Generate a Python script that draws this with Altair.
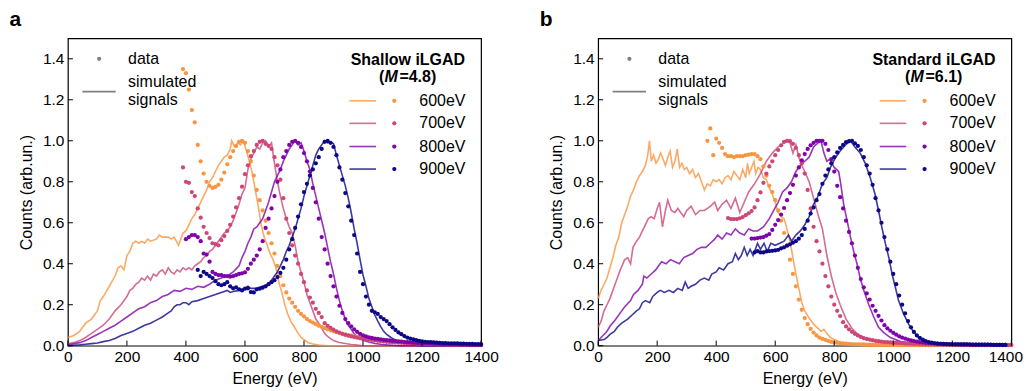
import altair as alt
import pandas as pd

FONT = "Liberation Sans"
ENERGIES = ["600eV", "700eV", "800eV", "900eV"]
COLORS = ["#F89540", "#CC4778", "#7E03A8", "#0D0887"]
XTICKS = [0, 200, 400, 600, 800, 1000, 1200, 1400]
YTICKS = [0.0, 0.2, 0.4, 0.6, 0.8, 1.0, 1.2, 1.4]
BIN = 10  # energy bin of the measured spectra (eV)

# ---------------- panel a : Shallow iLGAD (M=4.8) ----------------
a_sim_600 = [(0,0.04),(20,0.05),(40,0.07),(50,0.09),(60,0.11),(80,0.13),(100,0.17),(110,0.22),(120,0.24),(140,0.29),
             (160,0.34),(170,0.38),(180,0.39),(190,0.37),(200,0.44),(210,0.46),(220,0.50),(230,0.51),(240,0.50),(250,0.51),
             (260,0.50),(270,0.52),(280,0.51),(300,0.52),(310,0.54),(320,0.53),(340,0.53),(350,0.52),(360,0.53),(375,0.49),
             (390,0.55),(400,0.56),(410,0.59),(420,0.62),(430,0.64),(440,0.67),(450,0.70),(460,0.73),(470,0.76),(480,0.80),
             (490,0.82),(500,0.85),(510,0.88),(520,0.90),(530,0.92),(540,0.93),(550,0.96),(555,1.0),(565,0.97),(575,0.99),
             (585,0.98),(595,1.0),(605,0.95),(615,0.90),(625,0.84),(635,0.76),(645,0.68),(655,0.59),(665,0.53),(675,0.49),
             (685,0.45),(695,0.42),(705,0.38),(715,0.31),(725,0.26),(735,0.20),(745,0.155),(755,0.12),(768,0.09),(780,0.06),
             (790,0.04),(800,0.03),(813,0.016),(830,0.008),(850,0.003),(880,0.0),(1400,0.0)]
a_sim_700 = [(0,0.01),(20,0.015),(40,0.025),(60,0.04),(80,0.06),(100,0.08),(120,0.10),(140,0.13),(160,0.17),(180,0.20),
             (200,0.24),(210,0.27),(220,0.28),(230,0.30),(240,0.31),(250,0.33),(260,0.32),(270,0.34),(280,0.32),(290,0.35),
             (300,0.34),(310,0.36),(320,0.37),(330,0.35),(340,0.38),(350,0.36),(360,0.35),(370,0.37),(380,0.36),(390,0.38),
             (400,0.37),(410,0.38),(420,0.37),(430,0.39),(440,0.40),(450,0.41),(460,0.43),(470,0.44),(480,0.46),(490,0.47),
             (500,0.49),(510,0.51),(520,0.53),(530,0.55),(540,0.56),(550,0.58),(560,0.61),(570,0.65),(580,0.69),(590,0.74),
             (600,0.77),(610,0.86),(620,0.91),(630,0.94),(640,0.97),(650,0.96),(660,0.99),(670,1.0),(680,0.97),(690,0.99),
             (700,0.89),(710,0.80),(720,0.73),(730,0.67),(740,0.62),(750,0.58),(760,0.55),(770,0.49),(780,0.41),(790,0.36),
             (800,0.31),(810,0.25),(820,0.21),(830,0.17),(840,0.13),(850,0.11),(860,0.085),(870,0.06),(880,0.045),(890,0.035),
             (900,0.025),(920,0.016),(940,0.011),(960,0.006),(980,0.003),(1000,0.0),(1400,0.0)]
a_sim_800 = [(0,0.005),(20,0.01),(40,0.015),(60,0.025),(80,0.04),(100,0.055),(120,0.07),(140,0.085),(160,0.10),(180,0.12),
             (200,0.14),(220,0.16),(240,0.18),(260,0.19),(280,0.21),(300,0.22),(320,0.24),(340,0.25),(360,0.27),(380,0.265),
             (400,0.28),(420,0.275),(440,0.29),(460,0.285),(480,0.30),(500,0.32),(520,0.33),(540,0.34),(560,0.36),(580,0.39),
             (590,0.43),(600,0.46),(610,0.50),(620,0.53),(630,0.57),(640,0.58),(650,0.60),(660,0.62),(670,0.66),(680,0.70),
             (690,0.75),(700,0.80),(710,0.83),(720,0.86),(730,0.90),(740,0.93),(750,0.96),(760,0.98),(770,1.0),(780,0.98),
             (790,0.99),(800,0.95),(810,0.90),(820,0.86),(830,0.79),(840,0.73),(850,0.67),(860,0.61),(870,0.55),(880,0.48),
             (890,0.41),(900,0.35),(910,0.28),(920,0.22),(930,0.17),(940,0.13),(950,0.10),(960,0.08),(970,0.058),(980,0.045),
             (1000,0.026),(1020,0.018),(1040,0.011),(1060,0.007),(1080,0.004),(1100,0.002),(1120,0.0),(1400,0.0)]
a_sim_900 = [(0,0.0),(20,0.002),(40,0.004),(60,0.007),(80,0.01),(100,0.013),(120,0.02),(140,0.025),(160,0.035),(180,0.05),
             (200,0.06),(220,0.07),(240,0.085),(260,0.10),(280,0.11),(300,0.125),(320,0.14),(340,0.16),(350,0.17),(360,0.19),
             (370,0.20),(380,0.20),(390,0.21),(400,0.21),(410,0.20),(420,0.215),(440,0.22),(460,0.23),(480,0.24),(500,0.25),
             (520,0.26),(540,0.27),(550,0.26),(560,0.265),(580,0.27),(600,0.28),(610,0.29),(620,0.28),(640,0.28),(660,0.29),
             (680,0.30),(690,0.32),(700,0.34),(710,0.36),(720,0.39),(730,0.42),(740,0.46),(750,0.49),(760,0.53),(770,0.57),
             (780,0.62),(790,0.67),(800,0.73),(810,0.78),(820,0.83),(830,0.88),(840,0.93),(850,0.96),(860,0.98),(870,1.0),
             (880,0.99),(890,0.995),(900,0.985),(910,0.93),(920,0.88),(930,0.83),(940,0.78),(950,0.72),(960,0.65),(970,0.57),
             (980,0.50),(990,0.42),(1000,0.345),(1010,0.29),(1020,0.23),(1030,0.19),(1040,0.15),(1050,0.12),(1060,0.093),(1070,0.07),
             (1080,0.055),(1090,0.045),(1100,0.035),(1120,0.022),(1140,0.013),(1160,0.007),(1180,0.003),(1200,0.0),(1400,0.0)]

a_dat_600_start = 390
a_dat_600 = [1.35,1.33,1.25,1.15,1.09,0.98,0.90,0.84,0.80,0.78,0.77,
             0.775,0.785,0.81,0.845,0.885,0.92,0.95,0.975,0.995,1.0,
             0.99,0.95,0.90,0.83,0.76,0.71,0.66,0.61,0.55,0.50,
             0.45,0.39,0.34,0.295,0.26,0.23,0.21,0.19,0.17,0.155,
             0.143,0.13,0.12,0.113,0.105,0.098,0.092,0.086,0.08,0.075,
             0.07,0.066,0.062,0.058,0.055,0.052,0.049,0.046,0.043,0.041,
             0.039,0.037,0.035,0.033,0.031,0.029,0.027,0.026,0.024,0.023,
             0.022,0.021,0.019,0.018,0.017,0.016,0.015,0.014,0.013,0.012,
             0.012,0.011,0.010,0.010,0.009,0.009,0.008,0.008,0.007,0.007,
             0.006,0.006,0.006,0.005,0.005,0.005,0.004,0.004,0.004,0.004,0.003]
a_dat_700_start = 390
a_dat_700 = [0.87,0.80,0.795,0.75,0.73,0.67,0.625,0.58,0.55,0.525,0.50,
             0.496,0.49,0.515,0.535,0.56,0.59,0.63,0.675,0.72,0.776,
             0.837,0.88,0.925,0.95,0.98,0.995,1.0,0.985,0.975,0.96,
             0.92,0.88,0.81,0.72,0.62,0.55,0.49,0.44,0.40,0.35,
             0.31,0.27,0.235,0.21,0.18,0.16,0.14,0.11,0.097,0.087,
             0.078,0.070,0.064,0.058,0.053,0.049,0.045,0.042,0.039,0.036,
             0.034,0.032,0.030,0.028,0.026,0.024,0.022,0.021,0.019,0.018,
             0.017,0.016,0.015,0.014,0.013,0.012,0.011,0.011,0.010,0.009,
             0.009,0.008,0.008,0.007,0.007,0.006,0.006,0.006,0.005,0.005,
             0.005,0.004,0.004,0.004,0.004,0.003,0.003,0.003,0.003,0.003,0.003]
a_dat_800_start = 400
a_dat_800 = [0.52,0.53,0.54,0.54,0.53,0.51,0.45,0.445,0.41,0.36,
             0.35,0.345,0.345,0.34,0.34,0.337,0.34,0.345,0.35,0.353,
             0.358,0.375,0.40,0.42,0.44,0.47,0.51,0.575,0.62,0.67,
             0.73,0.80,0.86,0.92,0.95,0.98,0.995,1.0,0.99,0.97,
             0.94,0.90,0.85,0.77,0.70,0.62,0.53,0.47,0.40,0.34,
             0.29,0.24,0.195,0.16,0.13,0.11,0.095,0.08,0.068,0.058,
             0.05,0.045,0.041,0.038,0.035,0.033,0.031,0.029,0.027,0.026,
             0.024,0.023,0.021,0.020,0.018,0.017,0.016,0.015,0.014,0.013,
             0.012,0.011,0.011,0.010,0.009,0.009,0.008,0.008,0.007,0.007,
             0.006,0.006,0.006,0.005,0.005,0.005,0.004,0.004,0.004,0.004,0.003]
a_dat_900_start = 440
a_dat_900 = [0.37,0.34,0.36,0.35,0.34,0.33,
             0.315,0.30,0.295,0.30,0.31,0.29,0.28,0.285,0.275,0.27,
             0.278,0.28,0.262,0.26,0.275,0.278,0.283,0.29,0.30,0.31,
             0.32,0.335,0.355,0.38,0.42,0.47,0.52,0.575,0.63,0.69,
             0.75,0.79,0.83,0.86,0.89,0.92,0.96,0.995,1.0,0.99,
             0.97,0.93,0.87,0.81,0.745,0.68,0.61,0.54,0.45,0.36,
             0.30,0.24,0.20,0.17,0.163,0.155,0.14,0.13,0.12,0.105,
             0.09,0.077,0.065,0.056,0.047,0.04,0.035,0.031,0.027,0.024,
             0.021,0.019,0.018,0.017,0.016,0.015,0.014,0.013,0.013,0.012,
             0.012,0.011,0.011,0.010,0.010,0.009,0.009,0.009,0.008,0.008,0.008]

# ---------------- panel b : Standard iLGAD (M=6.1) ----------------
b_sim_600 = [(0,0.23),(10,0.27),(20,0.30),(30,0.33),(40,0.38),(50,0.43),(60,0.49),(70,0.53),(80,0.60),(90,0.64),
             (100,0.68),(110,0.73),(120,0.76),(130,0.80),(140,0.83),(150,0.85),(160,0.88),(168,0.93),(174,1.0),(180,0.90),
             (188,0.93),(196,0.89),(204,0.91),(212,0.94),(220,0.91),(228,0.88),(236,0.92),(244,0.95),(252,0.87),(260,0.90),
             (268,0.96),(276,0.87),(284,0.89),(292,0.86),(300,0.87),(310,0.84),(320,0.86),(330,0.82),(340,0.84),(350,0.80),
             (360,0.76),(370,0.79),(380,0.78),(390,0.81),(400,0.80),(410,0.81),(420,0.79),(430,0.82),(440,0.83),(450,0.81),
             (460,0.85),(470,0.83),(480,0.81),(490,0.86),(500,0.82),(506,0.89),(512,0.84),(520,0.87),(528,0.90),(534,0.84),
             (542,0.87),(550,0.86),(560,0.82),(570,0.81),(580,0.77),(590,0.74),(600,0.70),(610,0.65),(620,0.63),(630,0.62),
             (640,0.57),(650,0.51),(660,0.43),(670,0.35),(680,0.28),(690,0.21),(700,0.17),(715,0.135),(730,0.105),(745,0.085),
             (755,0.07),(765,0.08),(775,0.06),(787,0.04),(800,0.03),(810,0.024),(825,0.015),(845,0.009),(870,0.004),(900,0.0),
             (1400,0.0)]
b_sim_700 = [(0,0.09),(10,0.12),(20,0.17),(30,0.20),(40,0.23),(55,0.29),(65,0.33),(75,0.37),(90,0.42),(100,0.43),
             (110,0.40),(118,0.48),(130,0.51),(140,0.53),(150,0.56),(160,0.59),(170,0.62),(180,0.63),(190,0.62),(200,0.67),
             (208,0.70),(218,0.58),(228,0.66),(236,0.71),(248,0.66),(260,0.65),(270,0.67),(290,0.63),(300,0.66),(315,0.68),
             (330,0.64),(345,0.66),(360,0.66),(380,0.68),(395,0.70),(405,0.66),(420,0.69),(435,0.71),(450,0.67),(465,0.72),
             (480,0.65),(495,0.70),(510,0.75),(530,0.79),(550,0.84),(570,0.90),(590,0.94),(610,0.97),(630,0.99),(640,1.0),
             (650,0.99),(660,0.94),(670,0.98),(680,0.92),(690,0.88),(700,0.85),(715,0.80),(730,0.72),(745,0.64),(760,0.57),
             (775,0.44),(790,0.34),(805,0.26),(820,0.20),(840,0.13),(860,0.085),(880,0.055),(910,0.03),(950,0.016),(1000,0.005),
             (1050,0.0),(1400,0.0)]
b_sim_800 = [(0,0.025),(10,0.04),(20,0.055),(30,0.07),(40,0.095),(55,0.12),(65,0.14),(80,0.17),(90,0.19),(110,0.22),
             (120,0.25),(135,0.27),(150,0.30),(155,0.34),(165,0.33),(180,0.35),(195,0.37),(205,0.39),(215,0.41),(230,0.40),
             (245,0.42),(260,0.41),(275,0.40),(290,0.43),(305,0.44),(320,0.45),(335,0.47),(350,0.48),(365,0.48),(380,0.50),
             (395,0.52),(405,0.54),(420,0.52),(435,0.55),(450,0.54),(465,0.57),(480,0.55),(495,0.54),(510,0.57),(525,0.56),
             (540,0.56),(560,0.58),(580,0.62),(595,0.66),(610,0.70),(625,0.75),(640,0.77),(655,0.80),(670,0.85),(685,0.88),
             (700,0.90),(715,0.92),(730,0.97),(745,0.99),(755,1.0),(765,0.94),(775,0.90),(785,0.91),(800,0.87),(815,0.85),
             (822,0.79),(832,0.69),(845,0.60),(855,0.53),(866,0.46),(877,0.40),(888,0.33),(900,0.27),(917,0.20),(934,0.14),
             (950,0.09),(967,0.065),(990,0.04),(1025,0.02),(1070,0.01),(1150,0.0),(1400,0.0)]
b_sim_900 = [(0,0.025),(10,0.028),(20,0.03),(30,0.04),(40,0.055),(55,0.07),(65,0.09),(80,0.11),(90,0.12),(100,0.13),
             (115,0.15),(130,0.17),(140,0.18),(150,0.21),(160,0.22),(175,0.21),(185,0.24),(200,0.26),(210,0.27),(225,0.26),
             (240,0.27),(255,0.26),(270,0.28),(285,0.27),(295,0.31),(305,0.28),(315,0.29),(330,0.30),(345,0.32),(360,0.33),
             (375,0.32),(385,0.35),(400,0.36),(410,0.38),(425,0.37),(440,0.40),(455,0.41),(465,0.45),(475,0.42),(485,0.44),
             (495,0.48),(505,0.44),(515,0.47),(525,0.44),(540,0.50),(550,0.47),(562,0.50),(573,0.46),(585,0.50),(600,0.49),
             (615,0.50),(630,0.51),(645,0.54),(655,0.51),(670,0.54),(685,0.56),(700,0.59),(715,0.63),(730,0.69),(742,0.72),
             (760,0.79),(775,0.82),(787,0.87),(805,0.92),(820,0.95),(838,0.98),(855,1.0),(870,0.97),(888,0.94),(905,0.89),
             (922,0.82),(938,0.74),(950,0.66),(961,0.58),(973,0.50),(985,0.43),(996,0.35),(1007,0.285),(1018,0.22),(1035,0.155),
             (1052,0.105),(1070,0.065),(1086,0.04),(1110,0.02),(1140,0.01),(1200,0.0),(1400,0.0)]

b_dat_600_start = 370
b_dat_600 = [1.0,1.06,0.93,1.01,0.99,0.965,0.935,0.925,0.925,0.92,
             0.925,0.925,0.925,0.93,0.933,0.935,0.935,0.925,0.91,0.875,
             0.83,0.78,0.75,0.71,0.66,0.61,0.55,0.49,0.42,0.35,
             0.29,0.225,0.175,0.135,0.105,0.082,0.064,0.05,0.04,0.033,
             0.028,0.023,0.019,0.016,0.014,0.012,0.011,0.010,0.009,0.008,
             0.007,0.007,0.006,0.006,0.005,0.005,0.005,0.004,0.004,0.004,
             0.004,0.004,0.003,0.003,0.003,0.003,0.003,0.003,0.003,0.003,
             0.003,0.003,0.003,0.003,0.003,0.003,0.003,0.003,0.003,0.003,
             0.003,0.003,0.003,0.003,0.003,0.003,0.003,0.003,0.003,0.003,
             0.003,0.003,0.003,0.003,0.003,0.003,0.003,0.003,0.003,0.003,
             0.003,0.003,0.003,0.003]
b_dat_700_start = 440
b_dat_700 = [0.623,0.618,0.618,0.618,0.622,0.628,0.637,0.646,0.657,0.675,
             0.71,0.748,0.795,0.84,0.875,0.90,0.93,0.955,0.978,0.995,
             1.0,0.998,0.985,0.965,0.93,0.89,0.84,0.76,0.67,0.58,
             0.51,0.46,0.40,0.34,0.29,0.24,0.20,0.17,0.145,0.115,
             0.094,0.08,0.068,0.058,0.05,0.043,0.037,0.033,0.03,0.027,
             0.024,0.022,0.02,0.018,0.017,0.016,0.015,0.014,0.013,0.012,
             0.011,0.010,0.010,0.009,0.009,0.008,0.008,0.007,0.007,0.007,
             0.006,0.006,0.006,0.005,0.005,0.005,0.005,0.004,0.004,0.004,
             0.004,0.004,0.003,0.003,0.003,0.003,0.003,0.003,0.003,0.003,
             0.003,0.003,0.003,0.003,0.003,0.003,0.003]
b_dat_800_start = 520
b_dat_800 = [0.523,0.523,0.525,0.528,0.53,0.537,0.545,0.565,
             0.59,0.613,0.64,0.672,0.71,0.745,0.785,0.83,0.87,0.905,
             0.935,0.96,0.978,0.99,1.0,1.0,1.0,0.985,0.955,0.91,
             0.85,0.78,0.725,0.67,0.61,0.555,0.50,0.44,0.38,0.325,
             0.285,0.255,0.225,0.195,0.17,0.146,0.123,0.10,0.085,0.073,
             0.063,0.054,0.046,0.04,0.035,0.03,0.026,0.023,0.02,0.018,
             0.016,0.014,0.013,0.012,0.011,0.010,0.009,0.009,0.008,0.008,
             0.007,0.007,0.007,0.006,0.006,0.006,0.006,0.005,0.005,0.005,
             0.005,0.005,0.005,0.004,0.004,0.004,0.004,0.004,0.004]
b_dat_900_start = 530
b_dat_900 = [0.455,0.462,0.455,0.455,0.46,0.462,0.463,
             0.465,0.468,0.475,0.48,0.488,0.495,0.503,0.51,0.522,0.54,
             0.57,0.61,0.645,0.675,0.71,0.74,0.79,0.83,0.86,0.89,
             0.92,0.943,0.965,0.98,0.993,0.998,1.0,0.987,0.975,0.955,
             0.92,0.88,0.84,0.785,0.72,0.66,0.60,0.53,0.47,0.41,
             0.35,0.30,0.245,0.20,0.158,0.12,0.09,0.067,0.05,0.038,
             0.03,0.023,0.018,0.015,0.012,0.010,0.009,0.008,0.008,0.007,
             0.007,0.007,0.006,0.006,0.006,0.006,0.005,0.005,0.005,0.005,
             0.005,0.005,0.005,0.005,0.004,0.004,0.004,0.004,0.004]

# ---------------- legend content ----------------
LEG_ROWS_V = [1.195, 1.085, 0.972, 0.862]
LEG_LINE_E = (954, 1044)
LEG_DOT_E = 1106
LEG_TEXT_E = 1347
GEN_DOT = (106, 1.40)
GEN_LINE = (49, 162, 1.24)
GEN_TEXTS = [("data", 204, 1.40), ("simulated", 204, 1.285), ("signals", 204, 1.20)]

DOT_SIZE = 18
LINE_W = 1.6

X_SCALE = alt.Scale(domain=[0, 1400], nice=False, zero=False)
Y_SCALE = alt.Scale(domain=[0, 1.5], nice=False, zero=False)
COLOR = alt.Color("s:N", scale=alt.Scale(domain=ENERGIES, range=COLORS), legend=None)
Y_AXIS = alt.Axis(values=YTICKS, format=".1f", title="Counts (arb.un.)", titlePadding=8)


def make_x_axis(last_shift):
    if last_shift:
        return alt.Axis(values=XTICKS, format="d", title="Energy (eV)", titlePadding=5,
                        labelOffset={"condition": {"test": "datum.value >= 1400", "value": last_shift},
                                     "value": 0})
    return alt.Axis(values=XTICKS, format="d", title="Energy (eV)", titlePadding=5)


def sim_frame(series):
    rows = []
    for lab, pts in zip(ENERGIES, series):
        for i, (e, v) in enumerate(pts):
            rows.append({"E": e, "v": v, "s": lab, "o": i})
    return pd.DataFrame(rows)


def dat_frame(starts, series):
    rows = []
    for lab, st, vals in zip(ENERGIES, starts, series):
        for i, v in enumerate(vals):
            rows.append({"E": st + BIN * i, "v": v, "s": lab})
    return pd.DataFrame(rows)


def panel(tag, sims, starts, dats, head, head_E, mval, last_shift=0):
    x_axis = make_x_axis(last_shift)

    def X(field="E"):
        return alt.X(f"{field}:Q", scale=X_SCALE, axis=x_axis, title="Energy (eV)")

    def Y(field="v"):
        return alt.Y(f"{field}:Q", scale=Y_SCALE, axis=Y_AXIS, title="Counts (arb.un.)")

    lines = alt.Chart(sim_frame(sims)).mark_line(strokeWidth=LINE_W, opacity=0.8).encode(
        x=X(), y=Y(), color=COLOR, order="o:Q")
    dots = alt.Chart(dat_frame(starts, dats)).mark_circle(size=DOT_SIZE, opacity=1).encode(
        x=X(), y=Y(), color=COLOR)

    xt = pd.DataFrame({"E": XTICKS, "v": [0.0] * len(XTICKS), "v2": [0.025] * len(XTICKS)})
    yt = pd.DataFrame({"E": [0] * len(YTICKS), "E2": [17] * len(YTICKS), "v": YTICKS})
    xticks = alt.Chart(xt).mark_rule(color="black", strokeWidth=1).encode(x=X(), y=Y(), y2="v2:Q")
    yticks = alt.Chart(yt).mark_rule(color="black", strokeWidth=1).encode(x=X(), x2="E2:Q", y=Y())

    leg = pd.DataFrame({"s": ENERGIES, "v": LEG_ROWS_V, "E": [LEG_LINE_E[0]] * 4, "E2": [LEG_LINE_E[1]] * 4,
                        "Ed": [LEG_DOT_E] * 4, "Et": [LEG_TEXT_E] * 4})
    leg_lines = alt.Chart(leg).mark_rule(strokeWidth=LINE_W, opacity=0.8).encode(
        x=X(), x2="E2:Q", y=Y(), color=COLOR)
    leg_dots = alt.Chart(leg).mark_circle(size=DOT_SIZE, opacity=1).encode(x=X("Ed"), y=Y(), color=COLOR)
    leg_text = alt.Chart(leg).mark_text(align="right", baseline="middle", fontSize=16, color="black").encode(
        x=X("Et"), y=Y(), text="s:N")

    gen_pt = pd.DataFrame({"E": [GEN_DOT[0]], "v": [GEN_DOT[1]]})
    gen_ln = pd.DataFrame({"E": [GEN_LINE[0]], "E2": [GEN_LINE[1]], "v": [GEN_LINE[2]]})
    gen_tx = pd.DataFrame({"t": [g[0] for g in GEN_TEXTS], "E": [g[1] for g in GEN_TEXTS],
                           "v": [g[2] for g in GEN_TEXTS]})
    g_dot = alt.Chart(gen_pt).mark_circle(size=DOT_SIZE, color="#808080", opacity=1).encode(x=X(), y=Y())
    g_line = alt.Chart(gen_ln).mark_rule(strokeWidth=LINE_W, color="#808080").encode(x=X(), x2="E2:Q", y=Y())
    g_text = alt.Chart(gen_tx).mark_text(align="left", baseline="middle", fontSize=16, color="black").encode(
        x=X(), y=Y(), text="t:N")

    hd = pd.DataFrame({"t": [head], "E": [head_E], "v": [1.395]})
    head_txt = alt.Chart(hd).mark_text(align="center", baseline="middle", fontSize=16, fontWeight="bold",
                                       color="black").encode(x=X(), y=Y(), text="t:N")
    mrow = pd.DataFrame({"E": [head_E], "v": [1.312], "a": ["("], "b": ["M"], "c": ["=" + mval + ")"]})
    m1 = alt.Chart(mrow).mark_text(align="left", baseline="middle", fontSize=16, fontWeight="bold",
                                   color="black", dx=-29).encode(x=X(), y=Y(), text="a:N")
    m2 = alt.Chart(mrow).mark_text(align="left", baseline="middle", fontSize=16, fontWeight="bold",
                                   fontStyle="italic", color="black", dx=-23.5).encode(x=X(), y=Y(), text="b:N")
    m3 = alt.Chart(mrow).mark_text(align="left", baseline="middle", fontSize=16, fontWeight="bold",
                                   color="black", dx=-8.5).encode(x=X(), y=Y(), text="c:N")

    return alt.layer(lines, dots, xticks, yticks, leg_lines, leg_dots, leg_text, g_dot, g_line, g_text,
                     head_txt, m1, m2, m3).properties(
        width=414, height=308,
        title=alt.TitleParams(tag, anchor="start", frame="group", dx=-58.5, fontSize=21,
                              fontWeight="bold", font=FONT, color="black", offset=8))


left = panel("a", [a_sim_600, a_sim_700, a_sim_800, a_sim_900],
             [a_dat_600_start, a_dat_700_start, a_dat_800_start, a_dat_900_start],
             [a_dat_600, a_dat_700, a_dat_800, a_dat_900], "Shallow iLGAD", 1152, "4.8")
right = panel("b", [b_sim_600, b_sim_700, b_sim_800, b_sim_900],
              [b_dat_600_start, b_dat_700_start, b_dat_800_start, b_dat_900_start],
              [b_dat_600, b_dat_700, b_dat_800, b_dat_900], "Standard iLGAD", 1138, "6.1", last_shift=-6)

chart = alt.hconcat(left, right, spacing=117.3, bounds="flush").properties(
    padding={"left": 0, "top": 0, "right": 0, "bottom": 2}
).configure(font=FONT).configure_axis(
    labelFont=FONT, titleFont=FONT, labelFontSize=15.5, titleFontSize=16, titleFontWeight="normal",
    labelColor="black", titleColor="black", grid=False, domain=False, ticks=False, tickSize=0,
    labelFlush=False, labelPadding=4
).configure_view(stroke="black", strokeWidth=1.2)

chart.save("out.html", embed_options={"renderer": "svg", "actions": False})
